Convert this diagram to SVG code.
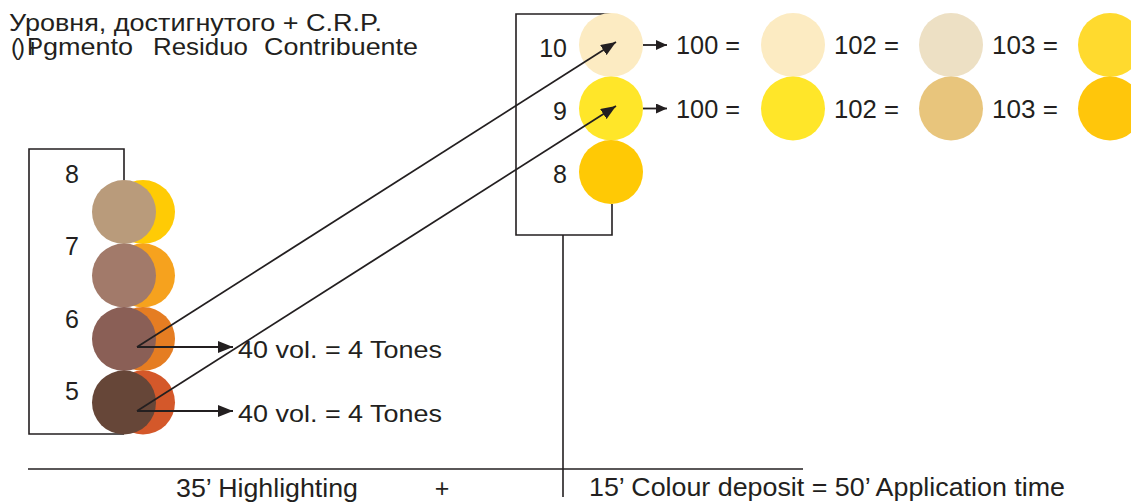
<svg xmlns="http://www.w3.org/2000/svg" width="1131" height="503" viewBox="0 0 1131 503">
<style>
text{font-family:"Liberation Sans",Arial,sans-serif;fill:#231f20}
.t24{font-size:24px}
.t25{font-size:25px}
.ln{stroke:#231f20;stroke-width:1.6;fill:none}
.ar{stroke:#231f20;stroke-width:1.8;fill:none}
</style>
<defs>
<marker id="ah" markerUnits="userSpaceOnUse" markerWidth="16" markerHeight="12" refX="15" refY="6" orient="auto">
<path d="M0,0 L15,6 L0,12 z" fill="#231f20"/>
</marker>
<marker id="ahs" markerUnits="userSpaceOnUse" markerWidth="12" markerHeight="10" refX="11" refY="5" orient="auto">
<path d="M0,0 L11,5 L0,10 z" fill="#231f20"/>
</marker>
</defs>
<rect width="1131" height="503" fill="#ffffff"/>

<g id="title">
<text class="t24" x="9" y="31" textLength="373" lengthAdjust="spacingAndGlyphs">Уровня, достигнутого + C.R.P.</text>
<text class="t24" y="55"><tspan x="11">(</tspan><tspan x="17">)</tspan><tspan x="27">P</tspan><tspan x="30">i</tspan><tspan x="43" textLength="90" lengthAdjust="spacingAndGlyphs">gmento</tspan><tspan x="153" textLength="95" lengthAdjust="spacingAndGlyphs">Residuo</tspan><tspan x="264" textLength="154" lengthAdjust="spacingAndGlyphs">Contribuente</tspan></text>
</g>

<g id="left-box">
<path class="ln" d="M124,181 V149 H29 V434 H124"/>
</g>

<g id="left-level-8">
<circle cx="143" cy="212" r="32" fill="#ffcb05"/>
<circle cx="124" cy="212" r="32" fill="#b99b7b"/>
<text class="t25" x="72" y="183" text-anchor="middle">8</text>
</g>
<g id="left-level-7">
<circle cx="143" cy="275.5" r="32" fill="#f6a21e"/>
<circle cx="124" cy="275.5" r="32" fill="#a27a6a"/>
<text class="t25" x="72" y="255" text-anchor="middle">7</text>
</g>
<g id="left-level-6">
<circle cx="143" cy="339" r="32" fill="#e57d22"/>
<circle cx="124" cy="339" r="32" fill="#8a5f56"/>
<text class="t25" x="72" y="328" text-anchor="middle">6</text>
</g>
<g id="left-level-5">
<circle cx="143" cy="402.5" r="32" fill="#d4582a"/>
<circle cx="124" cy="402.5" r="32" fill="#664638"/>
<text class="t25" x="72" y="400" text-anchor="middle">5</text>
</g>

<g id="label-40vol-6">
<text class="t24" x="238" y="358" textLength="204" lengthAdjust="spacingAndGlyphs">40 vol. = 4 Tones</text>
</g>
<g id="label-40vol-5">
<text class="t24" x="238" y="422" textLength="204" lengthAdjust="spacingAndGlyphs">40 vol. = 4 Tones</text>
</g>

<g id="right-box">
<path class="ln" d="M611,14 H516 V235 H612 V204"/>
</g>
<g id="right-level-10">
<circle cx="611" cy="45" r="32" fill="#fcebc2"/>
<text class="t25" x="567" y="57" text-anchor="end">10</text>
</g>
<g id="right-level-9">
<circle cx="611" cy="108.5" r="32" fill="#ffe629"/>
<text class="t25" x="567" y="120" text-anchor="end">9</text>
</g>
<g id="right-level-8">
<circle cx="611" cy="172" r="32" fill="#ffc905"/>
<text class="t25" x="567" y="183" text-anchor="end">8</text>
</g>

<g id="row-10">
<text class="t25" x="676" y="54" textLength="64" lengthAdjust="spacingAndGlyphs">100 =</text>
<circle cx="793" cy="45" r="32" fill="#fcebc2"/>
<text class="t25" x="834" y="54" textLength="65" lengthAdjust="spacingAndGlyphs">102 =</text>
<circle cx="951" cy="45" r="32" fill="#ede0c4"/>
<text class="t25" x="992" y="54" textLength="66" lengthAdjust="spacingAndGlyphs">103 =</text>
<circle cx="1110" cy="45" r="32" fill="#ffda2e"/>
</g>
<g id="row-9">
<text class="t25" x="676" y="118" textLength="64" lengthAdjust="spacingAndGlyphs">100 =</text>
<circle cx="793" cy="108.5" r="32" fill="#ffe629"/>
<text class="t25" x="834" y="118" textLength="65" lengthAdjust="spacingAndGlyphs">102 =</text>
<circle cx="951" cy="108.5" r="32" fill="#e8c57c"/>
<text class="t25" x="992" y="118" textLength="66" lengthAdjust="spacingAndGlyphs">103 =</text>
<circle cx="1110" cy="108.5" r="32" fill="#ffc60b"/>
</g>

<g id="timeline">
<line class="ln" x1="28" y1="469" x2="803" y2="469"/>
<text class="t25" x="176" y="497" textLength="182" lengthAdjust="spacingAndGlyphs">35’ Highlighting</text>
<text class="t25" x="442" y="497" text-anchor="middle">+</text>
<text class="t25" x="589" y="496" textLength="476" lengthAdjust="spacingAndGlyphs">15’ Colour deposit = 50’ Application time</text>
</g>

<g id="connectors">
<line class="ar" x1="137" y1="347" x2="616" y2="42" marker-end="url(#ah)"/>
<line class="ar" x1="137" y1="411" x2="616" y2="106" marker-end="url(#ah)"/>
<line class="ar" x1="137" y1="347" x2="233" y2="347" marker-end="url(#ah)"/>
<line class="ar" x1="137" y1="411" x2="233" y2="411" marker-end="url(#ah)"/>
<line class="ar" x1="643" y1="45" x2="667" y2="45" marker-end="url(#ahs)"/>
<line class="ar" x1="643" y1="108.5" x2="667" y2="108.5" marker-end="url(#ahs)"/>
<line class="ln" x1="563" y1="235" x2="563" y2="497"/>
</g>
</svg>
